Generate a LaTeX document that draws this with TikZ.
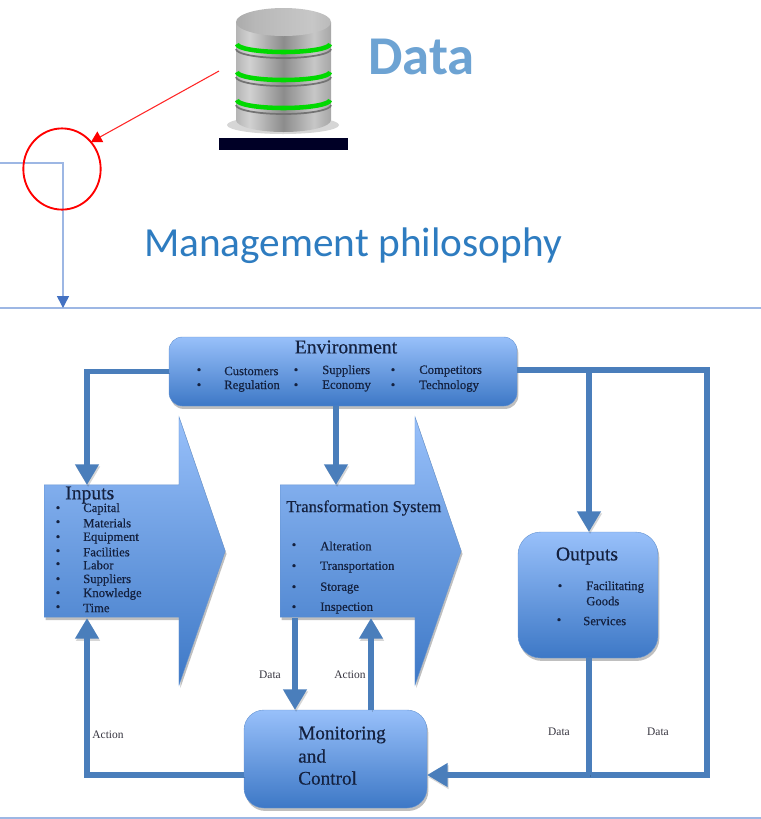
\documentclass[tikz,border=0pt]{standalone}
\usepackage{fontspec}
\setmainfont{Liberation Serif}
\newfontfamily\carlitofont{Carlito}
\newfontfamily\heavyserif[FakeBold=0.5]{Liberation Serif}
\usetikzlibrary{arrows.meta,shapes.arrows,shadows,calc}
\definecolor{boxtop}{HTML}{98C0FA}
\definecolor{boxbot}{HTML}{3D78C6}
\definecolor{conn}{HTML}{4A7EBB}
\definecolor{thinc}{HTML}{9DB7E4}
\definecolor{inkc}{HTML}{14213F}
\definecolor{titleblue}{HTML}{2E7CC0}
\pgfdeclarehorizontalshading{metal}{100bp}{
  color(0bp)=(black!55); color(18bp)=(black!40); color(32bp)=(black!18);
  color(50bp)=(black!45); color(66bp)=(black!22); color(82bp)=(black!45); color(100bp)=(black!72)}
\pgfdeclarehorizontalshading{metaltop}{100bp}{
  color(0bp)=(black!45); color(35bp)=(black!28); color(65bp)=(black!22); color(100bp)=(black!40)}
\tikzset{
  softshadow/.style={drop shadow={opacity=.5,shadow xshift=1pt,shadow yshift=-2.2pt}},
  bluebox/.style={draw=boxbot!80!white,line width=.3pt,top color=boxtop,bottom color=boxbot,softshadow,inner sep=0pt,rounded corners=#1},
  bigarrow/.style={single arrow,draw=boxbot!80!white,line width=.3pt,top color=boxtop,bottom color=boxbot,softshadow,inner sep=0pt,
    minimum height=135.75pt,minimum width=201pt,single arrow head extend=51pt,single arrow tip angle=142,anchor=tail},
  flowplain/.style={draw=conn,line width=4pt,preaction={draw=black,opacity=.16,transform canvas={xshift=.8pt,yshift=-1.6pt}}},
  flow/.style={flowplain,-{Triangle[length=15.5pt,width=17pt]}},
  thinline/.style={draw=thinc,line width=1.2pt},
  txt/.style={inner sep=0pt,anchor=west,text=inkc},
  headtxt/.style={txt,font=\heavyserif\fontsize{14.7}{15}\selectfont},
  itemtxt/.style={txt,font=\heavyserif\fontsize{9.5}{10}\selectfont},
  labtxt/.style={inner sep=0pt,text=inkc!80!brown,font=\fontsize{8.6}{10}\selectfont},
  montxt/.style={txt,font=\heavyserif\fontsize{14.4}{15}\selectfont}
}
\begin{document}
\begin{tikzpicture}[x=.75pt,y=-.75pt]
\useasboundingbox (0,0) rectangle (761,819);

% page rules
\coordinate (ruleL) at (0,308);
\coordinate (ruleR) at (761,308);
\draw[thinline] (ruleL) -- (ruleR);
\coordinate (footL) at (0,818);
\coordinate (footR) at (761,818);
\draw[thinline] (footL) -- (footR);

% feed line
\coordinate (feedA) at (0,163);
\coordinate (feedB) at (63,163);
\coordinate (feedC) at (63,308);
\draw[thinline,-{Triangle[length=9pt,width=9pt,color=conn!90!blue]}] (feedA) -- (feedB) -- (feedC);

% red marker
\node[draw=red,line width=1.4pt,circle,minimum width=58pt,inner sep=0pt,yscale=1.05] (marker) at (62,169) {};
\coordinate (dbLeft) at (219,71);
\coordinate (markEnd) at (91,142);
\draw[red!85!white,line width=.8pt,-{Triangle[length=8pt,width=9pt,color=red]}] (dbLeft) -- (markEnd);

% database
\fill[black,opacity=.16] (283,125) ellipse (56 and 9);
\path[shading=metal]
  (236,22) -- (236,120) arc[start angle=180,end angle=0,x radius=47.5,y radius=12] -- (331,22) -- cycle;
\foreach \yy in {44,72,100}{
  \draw[black!55,line width=1.3pt] (236,\yy+5) arc[start angle=180,end angle=0,x radius=47.5,y radius=9];
  \draw[green!85!black,line width=3.4pt] (237,\yy) arc[start angle=180,end angle=0,x radius=46.5,y radius=8];
}
\path[shading=metaltop] (283.5,22) ellipse (47.5 and 14);
\node[fill=black!85!blue,minimum width=96.75pt,minimum height=9pt,inner sep=0pt] (dbbase) at (283.5,144) {};

\node[inner sep=0pt,text=titleblue!70!white,font=\carlitofont\bfseries\fontsize{41}{43}\selectfont] (datatitle) at (421.5,57) {Data};
\node[inner sep=0pt,text=titleblue,font=\carlitofont\fontsize{31}{33}\selectfont] (philosophy) at (353,246) {Management philosophy};

% boxes
\node[bigarrow] (inputs) at (44,551) {\rule{0pt}{99pt}};
\node[bigarrow] (transform) at (280,551) {\rule{0pt}{99pt}};
\node[bluebox=10pt,minimum width=261pt,minimum height=51.75pt] (env) at (343,371.5) {};
\node[bluebox=17pt,minimum width=105pt,minimum height=94.5pt] (outputs) at (588,595) {};
\node[bluebox=15pt,minimum width=137.25pt,minimum height=73.5pt] (monitor) at (335.5,759) {};

% connector ends
\coordinate (inTop) at (87,485);
\coordinate (inBot) at (87,618);
\coordinate (trTop) at (336,485);
\coordinate (trBotA) at (295,618);
\coordinate (trBotB) at (371,618);
\coordinate (monTopA) at (295,710);
\coordinate (monTopB) at (371,710);
\coordinate (envBot) at (336,406);
\coordinate (envRight) at (517,370);
\coordinate (split) at (589,370);
\coordinate (outTop) at (589,532);
\coordinate (outBot) at (589,658);
\coordinate (corner) at (707,370);
\coordinate (busB) at (707,775);
\coordinate (join) at (589,775);
\coordinate (monRight) at (427,775);
\coordinate (monLeft) at (244,775);

\draw[flow] (env.west) -| (inTop);
\draw[flow] (envBot) -- (trTop);
\draw[flow] (split) -- (outTop);
\draw[flow] (envRight) -- (corner) -- (busB) -- (monRight);
\draw[flowplain] (outBot) -- (join);
\draw[flow] (monLeft) -| (inBot);
\draw[flow] (trBotA) -- (monTopA);
\draw[flow] (monTopB) -- (trBotB);

% Environment text
\node[headtxt,anchor=center] (envT) at (346,347) {Environment};
\foreach \bx/\tx/\wa/\wb/\nm in {199/224/Customers/Regulation/p,296/322/Suppliers/Economy/q,393/419/Competitors/Technology/r}{
  \node[itemtxt,anchor=center] (\nm ba) at (\bx,371) {\textbullet};
  \node[itemtxt,anchor=center] (\nm bb) at (\bx,386) {\textbullet};
  \node[itemtxt] (\nm ta) at (\tx,371) {\wa};
  \node[itemtxt] (\nm tb) at (\tx,386) {\wb};
}

% Inputs text
\node[headtxt] (inT) at (65,495) {Inputs};
\foreach \yy/\ww [count=\i] in {509/Capital,523/Materials,538/Equipment,552/Facilities,565/Labor,580/Suppliers,594/Knowledge,608/Time}{
  \node[itemtxt,anchor=center] (ib\i) at (58,\yy) {\textbullet};
  \node[itemtxt] (it\i) at (83,\yy) {\ww};
}

% Transformation text
\node[headtxt,font=\heavyserif\fontsize{12.4}{13}\selectfont] (trT) at (286,508) {Transformation System};
\foreach \yy/\ww [count=\i] in {546/Alteration,567/Transportation,588/Storage,608/Inspection}{
  \node[itemtxt,anchor=center] (tb\i) at (294,\yy) {\textbullet};
  \node[itemtxt] (tt\i) at (320,\yy) {\ww};
}

% Outputs text
\node[headtxt,anchor=center] (ouT) at (587,556) {Outputs};
\node[itemtxt,anchor=center] (ob1) at (560,587) {\textbullet};
\node[itemtxt] (ot1) at (586,587) {Facilitating};
\node[itemtxt] (ot1b) at (586,601) {Goods};
\node[itemtxt,anchor=center] (ob2) at (559,621) {\textbullet};
\node[itemtxt] (ot2) at (583,621) {Services};

% Monitoring text
\node[montxt] (m1) at (298,735) {Monitoring};
\node[montxt] (m2) at (298,756) {and};
\node[montxt] (m3) at (298,778) {Control};

% Labels
\node[labtxt] (l1) at (270,675) {Data};
\node[labtxt] (l2) at (350,675) {Action};
\node[labtxt] (l3) at (108,735) {Action};
\node[labtxt] (l4) at (559,732) {Data};
\node[labtxt] (l5) at (658,732) {Data};
\end{tikzpicture}
\end{document}
